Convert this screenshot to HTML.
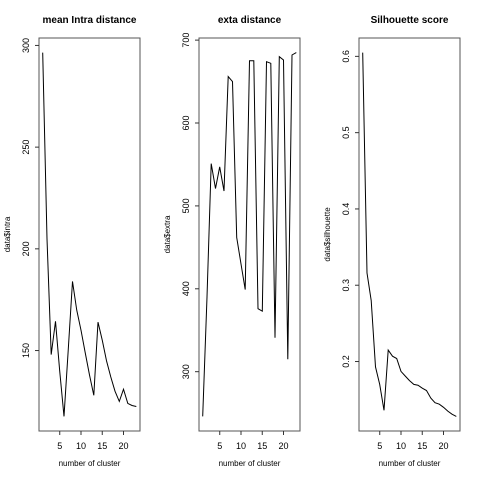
<!DOCTYPE html>
<html><head><meta charset="utf-8"><style>
html,body{margin:0;padding:0;background:#fff}
svg{display:block}
text{font-family:"Liberation Sans",Arial,sans-serif;fill:#000}
</style></head><body>
<svg id="chart" width="480" height="480" xmlns="http://www.w3.org/2000/svg"></svg>
<script>
const clusters = [1,2,3,4,5,6,7,8,9,10,11,12,13,14,15,16,17,18,19,20,21,22,23];
const intraValues = [296.5,205,148,164.4,140,117.6,150,184,170,160,149,138,128,164,155,145,137,130,125,131,124,123,122.5];
const extraValues = [246,390,551,521,547,518,656,650,462,430,399,675,675,376,373,674,672,341,680,676,315,682,685];
const silValues = [0.605,0.316,0.28,0.193,0.17,0.136,0.215,0.207,0.204,0.187,0.181,0.175,0.170,0.169,0.165,0.162,0.152,0.146,0.144,0.140,0.135,0.131,0.128];
const xTicks = [5,10,15,20];
const intraTicks = [150,200,250,300];
const extraTicks = [300,400,500,600,700];
const silTicks = [0.2,0.3,0.4,0.5,0.6];
const titles = ["mean Intra distance","exta distance","Silhouette score"];
const yLabels = ["data$intra","data$extra","data$silhouette"];

const NS="http://www.w3.org/2000/svg";
const svg=document.getElementById('chart');
function mk(tag,attrs,parent){const e=document.createElementNS(NS,tag);for(const k in attrs)e.setAttribute(k,attrs[k]);parent.appendChild(e);return e;}

function panel(idx,vals,yt,title,ylab,key){
  const ox=idx*160, L=ox+39, R=ox+140, T=38, B=431;
  const g=mk('g',{},svg);
  
  
  const xmin=Math.min(...clusters), xmax=Math.max(...clusters);
  const xp=(xmax-xmin)*0.04, ymin=Math.min(...vals), ymax=Math.max(...vals), yp=(ymax-ymin)*0.04;
  const sx=v=>L+(v-(xmin-xp))/((xmax+xp)-(xmin-xp))*(R-L);
  const sy=v=>B-(v-(ymin-yp))/((ymax+yp)-(ymin-yp))*(B-T);
  const t=mk('text',{x:(L+R)/2,y:23,'text-anchor':'middle','font-size':'10','font-weight':'bold'},g);
  t.textContent=title;
  
  
  const box=mk('rect',{x:L,y:T,width:R-L,height:B-T,fill:'none',stroke:'#555','stroke-width':1},g);
  
  
  const xa=mk('g',{},g);
  
  
  xTicks.forEach(v=>{const x=sx(v);
    mk('line',{x1:x,x2:x,y1:B,y2:B+4,stroke:'#333'},xa);
    const tx=mk('text',{x:x,y:449,'text-anchor':'middle','font-size':'9'},xa);tx.textContent=v;
    
    });
  const xl=mk('text',{x:(L+R)/2,y:466,'text-anchor':'middle','font-size':'8'},g);
  xl.textContent='number of cluster';
  
  
  const ya=mk('g',{},g);
  
  
  yt.forEach(v=>{const y=sy(v);
    mk('line',{x1:L-4,x2:L,y1:y,y2:y,stroke:'#333'},ya);
    const tx=mk('text',{x:0,y:0,'text-anchor':'middle','font-size':'9',transform:`translate(${ox+29},${y}) rotate(-90)`},ya);tx.textContent=v;
    
    });
  const yl=mk('text',{x:0,y:0,'text-anchor':'middle','font-size':'8',transform:`translate(${ox+10},${(T+B)/2}) rotate(-90)`},g);
  yl.textContent=ylab;
  
  
  const pts=clusters.map((c,i)=>sx(c).toFixed(1)+','+sy(vals[i]).toFixed(1)).join(' ');
  const pl=mk('polyline',{points:pts,fill:'none',stroke:'#000','stroke-width':1},g);
  
  
}
panel(0,intraValues,intraTicks,titles[0],yLabels[0],'intra');
panel(1,extraValues,extraTicks,titles[1],yLabels[1],'extra');
panel(2,silValues,silTicks,titles[2],yLabels[2],'silhouette');
</script>
</body></html>
